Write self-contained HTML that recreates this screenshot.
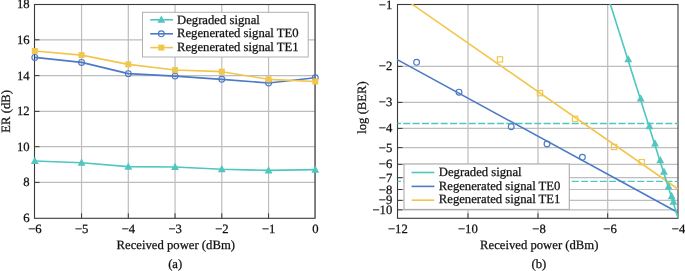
<!DOCTYPE html><html><head><meta charset="utf-8"><style>html,body{margin:0;padding:0;background:#fff;}svg{display:block;will-change:transform;}text{font-family:"Liberation Serif",serif;font-size:12.7px;fill:#111;stroke:#111;stroke-width:0.25px;text-rendering:geometricPrecision;}</style></head><body>
<svg width="685" height="271" viewBox="0 0 685 271">
<rect width="685" height="271" fill="#fff"/>
<line x1="81.55" y1="4.50" x2="81.55" y2="218.30" stroke="#bdbdbd" stroke-width="1.2"/>
<line x1="128.30" y1="4.50" x2="128.30" y2="218.30" stroke="#bdbdbd" stroke-width="1.2"/>
<line x1="175.05" y1="4.50" x2="175.05" y2="218.30" stroke="#bdbdbd" stroke-width="1.2"/>
<line x1="221.80" y1="4.50" x2="221.80" y2="218.30" stroke="#bdbdbd" stroke-width="1.2"/>
<line x1="268.55" y1="4.50" x2="268.55" y2="218.30" stroke="#bdbdbd" stroke-width="1.2"/>
<line x1="315.30" y1="4.50" x2="315.30" y2="218.30" stroke="#bdbdbd" stroke-width="1.2"/>
<line x1="34.50" y1="182.40" x2="315.00" y2="182.40" stroke="#bdbdbd" stroke-width="1.2"/>
<line x1="34.50" y1="146.70" x2="315.00" y2="146.70" stroke="#bdbdbd" stroke-width="1.2"/>
<line x1="34.50" y1="111.40" x2="315.00" y2="111.40" stroke="#bdbdbd" stroke-width="1.2"/>
<line x1="34.50" y1="75.60" x2="315.00" y2="75.60" stroke="#bdbdbd" stroke-width="1.2"/>
<line x1="34.50" y1="39.80" x2="315.00" y2="39.80" stroke="#bdbdbd" stroke-width="1.2"/>
<line x1="81.55" y1="218.30" x2="81.55" y2="213.30" stroke="#3a3a3a" stroke-width="1"/>
<line x1="128.30" y1="218.30" x2="128.30" y2="213.30" stroke="#3a3a3a" stroke-width="1"/>
<line x1="175.05" y1="218.30" x2="175.05" y2="213.30" stroke="#3a3a3a" stroke-width="1"/>
<line x1="221.80" y1="218.30" x2="221.80" y2="213.30" stroke="#3a3a3a" stroke-width="1"/>
<line x1="268.55" y1="218.30" x2="268.55" y2="213.30" stroke="#3a3a3a" stroke-width="1"/>
<line x1="34.50" y1="182.40" x2="39.50" y2="182.40" stroke="#3a3a3a" stroke-width="1"/>
<line x1="34.50" y1="146.70" x2="39.50" y2="146.70" stroke="#3a3a3a" stroke-width="1"/>
<line x1="34.50" y1="111.40" x2="39.50" y2="111.40" stroke="#3a3a3a" stroke-width="1"/>
<line x1="34.50" y1="75.60" x2="39.50" y2="75.60" stroke="#3a3a3a" stroke-width="1"/>
<line x1="34.50" y1="39.80" x2="39.50" y2="39.80" stroke="#3a3a3a" stroke-width="1"/>
<rect x="34.50" y="4.50" width="280.50" height="213.80" fill="none" stroke="#3a3a3a" stroke-width="1.1"/>
<polyline points="34.80,160.93 81.55,162.71 128.30,166.63 175.05,166.99 221.80,169.30 268.55,170.37 315.30,169.66" fill="none" stroke="#4fc7bf" stroke-width="1.6" stroke-linejoin="round"/>
<polyline points="34.80,57.42 81.55,62.40 128.30,73.63 175.05,76.12 221.80,79.33 268.55,83.07 315.30,77.73" fill="none" stroke="#4c7ac6" stroke-width="1.6" stroke-linejoin="round"/>
<polyline points="34.80,51.00 81.55,55.10 128.30,64.36 175.05,70.07 221.80,71.67 268.55,79.33 315.30,81.47" fill="none" stroke="#f2c64c" stroke-width="1.6" stroke-linejoin="round"/>
<path d="M34.80 156.70L30.90 164.00L38.70 164.00Z" fill="#4fc7bf"/>
<path d="M81.55 158.48L77.65 165.78L85.45 165.78Z" fill="#4fc7bf"/>
<path d="M128.30 162.40L124.40 169.70L132.20 169.70Z" fill="#4fc7bf"/>
<path d="M175.05 162.75L171.15 170.05L178.95 170.05Z" fill="#4fc7bf"/>
<path d="M221.80 165.07L217.90 172.37L225.70 172.37Z" fill="#4fc7bf"/>
<path d="M268.55 166.14L264.65 173.44L272.45 173.44Z" fill="#4fc7bf"/>
<path d="M315.30 165.43L311.40 172.73L319.20 172.73Z" fill="#4fc7bf"/>
<circle cx="34.80" cy="57.42" r="2.90" fill="none" stroke="#4c7ac6" stroke-width="1.15"/>
<circle cx="81.55" cy="62.40" r="2.90" fill="none" stroke="#4c7ac6" stroke-width="1.15"/>
<circle cx="128.30" cy="73.63" r="2.90" fill="none" stroke="#4c7ac6" stroke-width="1.15"/>
<circle cx="175.05" cy="76.12" r="2.90" fill="none" stroke="#4c7ac6" stroke-width="1.15"/>
<circle cx="221.80" cy="79.33" r="2.90" fill="none" stroke="#4c7ac6" stroke-width="1.15"/>
<circle cx="268.55" cy="83.07" r="2.90" fill="none" stroke="#4c7ac6" stroke-width="1.15"/>
<circle cx="315.30" cy="77.73" r="2.90" fill="none" stroke="#4c7ac6" stroke-width="1.15"/>
<rect x="31.80" y="48.00" width="6.00" height="6.00" fill="#f2c64c"/>
<rect x="78.55" y="52.10" width="6.00" height="6.00" fill="#f2c64c"/>
<rect x="125.30" y="61.36" width="6.00" height="6.00" fill="#f2c64c"/>
<rect x="172.05" y="67.07" width="6.00" height="6.00" fill="#f2c64c"/>
<rect x="218.80" y="68.67" width="6.00" height="6.00" fill="#f2c64c"/>
<rect x="265.55" y="76.33" width="6.00" height="6.00" fill="#f2c64c"/>
<rect x="312.30" y="78.47" width="6.00" height="6.00" fill="#f2c64c"/>
<rect x="142.5" y="12.3" width="165.7" height="44.7" fill="#fff" stroke="#b0b0b0" stroke-width="1.0"/>
<line x1="150.2" y1="19.80" x2="173" y2="19.80" stroke="#4fc7bf" stroke-width="1.6"/>
<path d="M161.30 15.57L157.40 22.87L165.20 22.87Z" fill="#4fc7bf"/>
<line x1="150.2" y1="33.80" x2="173" y2="33.80" stroke="#4c7ac6" stroke-width="1.6"/>
<circle cx="161.30" cy="33.80" r="2.90" fill="none" stroke="#4c7ac6" stroke-width="1.15"/>
<line x1="150.2" y1="47.60" x2="173" y2="47.60" stroke="#f2c64c" stroke-width="1.6"/>
<rect x="158.30" y="44.60" width="6.00" height="6.00" fill="#f2c64c"/>
<text x="177.0" y="23.90">Degraded signal</text>
<text x="177.0" y="37.20">Regenerated signal TE0</text>
<text x="177.0" y="51.00">Regenerated signal TE1</text>
<text x="29.6" y="222.20" text-anchor="end">6</text>
<text x="29.6" y="186.30" text-anchor="end">8</text>
<text x="29.6" y="150.60" text-anchor="end">10</text>
<text x="29.6" y="115.30" text-anchor="end">12</text>
<text x="29.6" y="79.50" text-anchor="end">14</text>
<text x="29.6" y="43.70" text-anchor="end">16</text>
<text x="29.6" y="8.40" text-anchor="end">18</text>
<text x="34.90" y="232.6" text-anchor="middle">−6</text>
<text x="81.65" y="232.6" text-anchor="middle">−5</text>
<text x="128.40" y="232.6" text-anchor="middle">−4</text>
<text x="175.15" y="232.6" text-anchor="middle">−3</text>
<text x="221.90" y="232.6" text-anchor="middle">−2</text>
<text x="268.65" y="232.6" text-anchor="middle">−1</text>
<text x="315.30" y="232.6" text-anchor="middle">0</text>
<text x="175.8" y="249.4" text-anchor="middle">Received power (dBm)</text>
<text x="175.2" y="268.2" text-anchor="middle">(a)</text>
<text transform="translate(9.9,111.3) rotate(-90)" text-anchor="middle">ER (dB)</text>
<line x1="468.00" y1="4.50" x2="468.00" y2="218.30" stroke="#bdbdbd" stroke-width="1.2"/>
<line x1="538.00" y1="4.50" x2="538.00" y2="218.30" stroke="#bdbdbd" stroke-width="1.2"/>
<line x1="607.70" y1="4.50" x2="607.70" y2="218.30" stroke="#bdbdbd" stroke-width="1.2"/>
<line x1="397.50" y1="66.40" x2="678.00" y2="66.40" stroke="#bdbdbd" stroke-width="1.2"/>
<line x1="397.50" y1="102.40" x2="678.00" y2="102.40" stroke="#bdbdbd" stroke-width="1.2"/>
<line x1="397.50" y1="128.40" x2="678.00" y2="128.40" stroke="#bdbdbd" stroke-width="1.2"/>
<line x1="397.50" y1="147.60" x2="678.00" y2="147.60" stroke="#bdbdbd" stroke-width="1.2"/>
<line x1="397.50" y1="164.30" x2="678.00" y2="164.30" stroke="#bdbdbd" stroke-width="1.2"/>
<line x1="397.50" y1="177.70" x2="678.00" y2="177.70" stroke="#bdbdbd" stroke-width="1.2"/>
<line x1="397.50" y1="189.50" x2="678.00" y2="189.50" stroke="#bdbdbd" stroke-width="1.2"/>
<line x1="397.50" y1="200.40" x2="678.00" y2="200.40" stroke="#bdbdbd" stroke-width="1.2"/>
<line x1="397.50" y1="209.80" x2="678.00" y2="209.80" stroke="#bdbdbd" stroke-width="1.2"/>
<line x1="468.00" y1="218.30" x2="468.00" y2="213.30" stroke="#3a3a3a" stroke-width="1"/>
<line x1="538.00" y1="218.30" x2="538.00" y2="213.30" stroke="#3a3a3a" stroke-width="1"/>
<line x1="607.70" y1="218.30" x2="607.70" y2="213.30" stroke="#3a3a3a" stroke-width="1"/>
<line x1="397.50" y1="66.40" x2="402.50" y2="66.40" stroke="#3a3a3a" stroke-width="1"/>
<line x1="397.50" y1="102.40" x2="402.50" y2="102.40" stroke="#3a3a3a" stroke-width="1"/>
<line x1="397.50" y1="128.40" x2="402.50" y2="128.40" stroke="#3a3a3a" stroke-width="1"/>
<line x1="397.50" y1="147.60" x2="402.50" y2="147.60" stroke="#3a3a3a" stroke-width="1"/>
<line x1="397.50" y1="164.30" x2="402.50" y2="164.30" stroke="#3a3a3a" stroke-width="1"/>
<line x1="397.50" y1="177.70" x2="402.50" y2="177.70" stroke="#3a3a3a" stroke-width="1"/>
<line x1="397.50" y1="189.50" x2="402.50" y2="189.50" stroke="#3a3a3a" stroke-width="1"/>
<line x1="397.50" y1="200.40" x2="402.50" y2="200.40" stroke="#3a3a3a" stroke-width="1"/>
<line x1="397.50" y1="209.80" x2="402.50" y2="209.80" stroke="#3a3a3a" stroke-width="1"/>
<rect x="397.50" y="4.50" width="280.50" height="213.80" fill="none" stroke="#3a3a3a" stroke-width="1.1"/>
<g clip-path="url(#cr)">
<clipPath id="cr"><rect x="396.80" y="3.80" width="281.90" height="215.20"/></clipPath>
<line x1="397.50" y1="123.50" x2="678.00" y2="123.50" stroke="#4fc7bf" stroke-width="1.3" stroke-dasharray="7 2.36" stroke-dashoffset="3.6"/>
<line x1="397.50" y1="181.45" x2="678.00" y2="181.45" stroke="#4fc7bf" stroke-width="1.3" stroke-dasharray="7 2.36" stroke-dashoffset="3.6"/>
<line x1="396.8" y1="59.42" x2="678" y2="212.5" stroke="#4c7ac6" stroke-width="1.6"/>
<line x1="411.6" y1="3.8" x2="678" y2="189.0" stroke="#f2c64c" stroke-width="1.6"/>
<line x1="610.18" y1="3.8" x2="678.0" y2="217.7" stroke="#4fc7bf" stroke-width="1.6"/>
<circle cx="416.60" cy="62.30" r="2.90" fill="none" stroke="#4c7ac6" stroke-width="1.15"/>
<circle cx="459.00" cy="92.20" r="2.90" fill="none" stroke="#4c7ac6" stroke-width="1.15"/>
<circle cx="511.20" cy="126.70" r="2.90" fill="none" stroke="#4c7ac6" stroke-width="1.15"/>
<circle cx="547.00" cy="144.00" r="2.90" fill="none" stroke="#4c7ac6" stroke-width="1.15"/>
<circle cx="582.40" cy="157.30" r="2.90" fill="none" stroke="#4c7ac6" stroke-width="1.15"/>
<rect x="497.35" y="56.75" width="5.30" height="5.30" fill="none" stroke="#f2c64c" stroke-width="1.15"/>
<rect x="537.35" y="90.45" width="5.30" height="5.30" fill="none" stroke="#f2c64c" stroke-width="1.15"/>
<rect x="572.45" y="116.15" width="5.30" height="5.30" fill="none" stroke="#f2c64c" stroke-width="1.15"/>
<rect x="611.45" y="144.35" width="5.30" height="5.30" fill="none" stroke="#f2c64c" stroke-width="1.15"/>
<rect x="639.15" y="159.55" width="5.30" height="5.30" fill="none" stroke="#f2c64c" stroke-width="1.15"/>
<path d="M628.28 55.07L624.38 62.37L632.18 62.37Z" fill="#4fc7bf"/>
<path d="M640.71 94.27L636.81 101.57L644.61 101.57Z" fill="#4fc7bf"/>
<path d="M649.46 121.87L645.56 129.17L653.36 129.17Z" fill="#4fc7bf"/>
<path d="M654.98 139.27L651.08 146.57L658.88 146.57Z" fill="#4fc7bf"/>
<path d="M660.28 155.97L656.38 163.27L664.18 163.27Z" fill="#4fc7bf"/>
<path d="M663.92 167.47L660.02 174.77L667.82 174.77Z" fill="#4fc7bf"/>
<path d="M668.62 182.27L664.72 189.57L672.52 189.57Z" fill="#4fc7bf"/>
<path d="M671.66 191.87L667.76 199.17L675.56 199.17Z" fill="#4fc7bf"/>
<path d="M673.44 197.47L669.54 204.77L677.34 204.77Z" fill="#4fc7bf"/>
</g>
<rect x="404.0" y="164.0" width="165.3" height="45.4" fill="#fff" stroke="#ababab" stroke-width="1.1"/>
<line x1="411.6" y1="172.50" x2="434.4" y2="172.50" stroke="#4fc7bf" stroke-width="1.6"/>
<line x1="411.6" y1="186.40" x2="434.4" y2="186.40" stroke="#4c7ac6" stroke-width="1.6"/>
<line x1="411.6" y1="200.20" x2="434.4" y2="200.20" stroke="#f2c64c" stroke-width="1.6"/>
<text x="438.8" y="176.20">Degraded signal</text>
<text x="438.8" y="189.80">Regenerated signal TE0</text>
<text x="438.8" y="203.40">Regenerated signal TE1</text>
<text x="392.3" y="8.50" text-anchor="end">−1</text>
<text x="392.3" y="70.40" text-anchor="end">−2</text>
<text x="392.3" y="106.40" text-anchor="end">−3</text>
<text x="392.3" y="132.40" text-anchor="end">−4</text>
<text x="392.3" y="151.60" text-anchor="end">−5</text>
<text x="392.3" y="168.30" text-anchor="end">−6</text>
<text x="392.3" y="181.70" text-anchor="end">−7</text>
<text x="392.3" y="193.50" text-anchor="end">−8</text>
<text x="392.3" y="204.40" text-anchor="end">−9</text>
<text x="392.3" y="213.80" text-anchor="end">−10</text>
<text x="397.90" y="232.6" text-anchor="middle">−12</text>
<text x="467.90" y="232.6" text-anchor="middle">−10</text>
<text x="539.00" y="232.6" text-anchor="middle">−8</text>
<text x="610.10" y="232.6" text-anchor="middle">−6</text>
<text x="678.60" y="232.6" text-anchor="middle">−4</text>
<text x="539.25" y="249.45" text-anchor="middle">Received power (dBm)</text>
<text x="538.95" y="268.3" text-anchor="middle">(b)</text>
<text transform="translate(365.8,107.5) rotate(-90)" text-anchor="middle">log (BER)</text>
</svg></body></html>
